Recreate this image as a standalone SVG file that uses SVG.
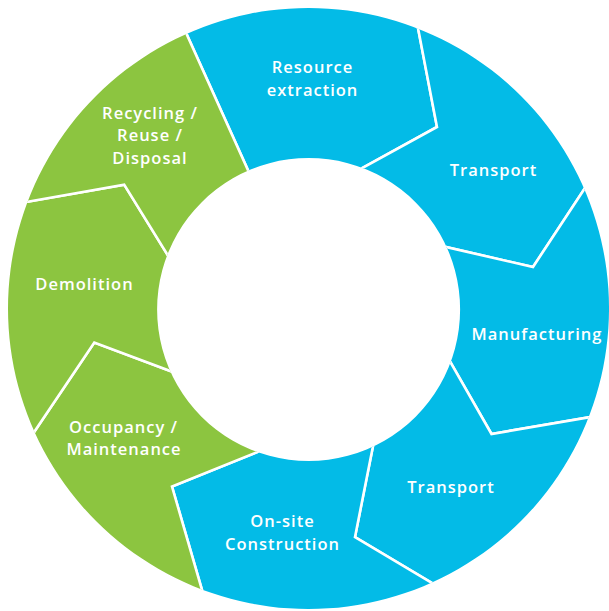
<svg xmlns="http://www.w3.org/2000/svg" width="609" height="611" viewBox="0 0 609 611">
  <style>
    .seg { stroke: #ffffff; stroke-width: 2.6; stroke-linejoin: miter; }
    .blue { fill: #03BBE7; }
    .green { fill: #8CC540; }
    .label { fill: #ffffff; font-family: "Open Sans", "Liberation Sans", sans-serif; font-weight: 600; font-size: 16.5px; letter-spacing: 1px; text-anchor: middle; }
  </style>
  <defs>
    <!-- the ring: outer disc minus the inner hole -->
    <clipPath id="ring">
      <path clip-rule="evenodd" d="M308.5,8 a300.5,300.5 0 1,0 0.01,0 Z M308.6,158 a151.5,151.5 0 1,0 0.01,0 Z"/>
    </clipPath>
  </defs>
  <rect width="609" height="611" fill="#ffffff"/>
  <g clip-path="url(#ring)">
    <g id="resource-extraction">
      <path class="seg blue" d="M308.5,309 L255.2,186.2 L137.7,-74.4 L395.4,-89.8 L437,127 L348.5,175.6 Z"/>
    </g>
    <g id="transport-1">
      <path class="seg blue" d="M308.5,309 L348.5,175.6 L437,127 L395.4,-89.8 L651,87.8 L533,267 L430.5,243.5 Z"/>
    </g>
    <g id="manufacturing">
      <path class="seg blue" d="M308.5,309 L430.5,243.5 L533,267 L651,87.8 L708.8,396.7 L491.5,434 L442.1,347.6 Z"/>
    </g>
    <g id="transport-2">
      <path class="seg blue" d="M308.5,309 L442.1,347.6 L491.5,434 L708.8,396.7 L535,644.5 L355,537 L375.9,431.4 Z"/>
    </g>
    <g id="on-site-construction">
      <path class="seg blue" d="M308.5,309 L375.9,431.4 L355,537 L535,644.5 L235.4,705.2 L172,486.5 L273.5,445.5 Z"/>
    </g>
    <g id="occupancy-maintenance">
      <path class="seg green" d="M308.5,309 L273.5,445.5 L172,486.5 L235.4,705.2 L-31.5,529.6 L94.3,342.6 L187.7,377.5 Z"/>
    </g>
    <g id="demolition">
      <path class="seg green" d="M308.5,309 L187.7,377.5 L94.3,342.6 L-31.5,529.6 L-89.1,222.5 L124.2,184.6 L177.5,271 Z"/>
    </g>
    <g id="recycling-reuse-disposal">
      <path class="seg green" d="M308.5,309 L177.5,271 L124.2,184.6 L-89.1,222.5 L137.7,-74.4 L255.2,186.2 Z"/>
    </g>
  </g>
  <g id="labels">
    <text class="label" x="312.5" y="73">Resource</text>
    <text class="label" x="312.5" y="95.5">extraction</text>
    <text class="label" x="493.5" y="175.5">Transport</text>
    <text class="label" x="537" y="339.5">Manufacturing</text>
    <text class="label" x="451" y="493">Transport</text>
    <text class="label" x="282.5" y="527">On-site</text>
    <text class="label" x="282.5" y="549.5">Construction</text>
    <text class="label" x="123.5" y="433">Occupancy /</text>
    <text class="label" x="124" y="455">Maintenance</text>
    <text class="label" x="84.5" y="290">Demolition</text>
    <text class="label" x="150" y="118.5">Recycling /</text>
    <text class="label" x="150" y="140.5">Reuse /</text>
    <text class="label" x="150" y="164">Disposal</text>
  </g>
</svg>
